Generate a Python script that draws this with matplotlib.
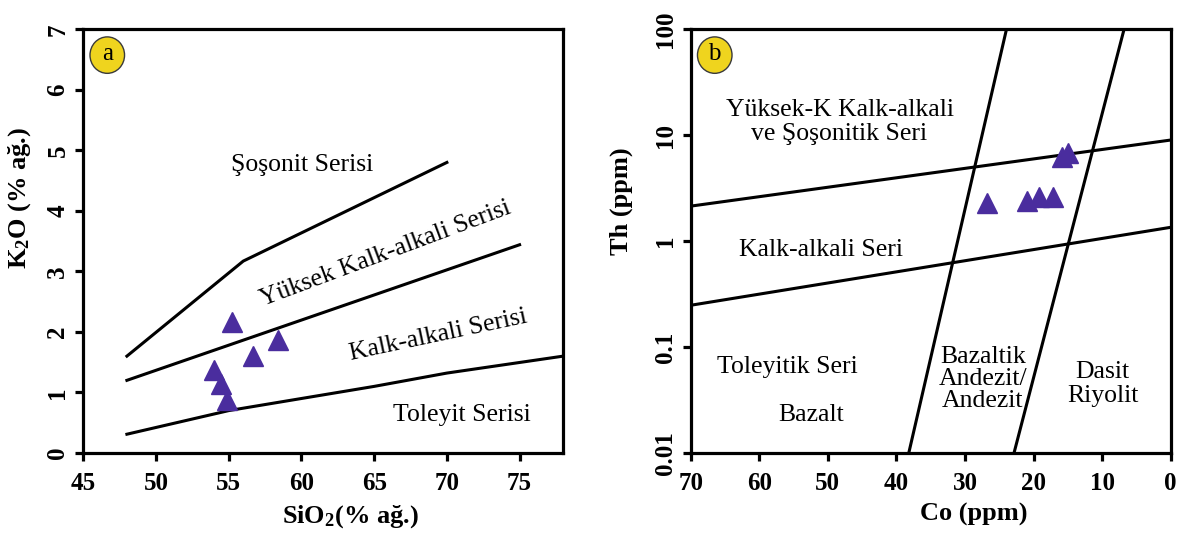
import numpy as np
import matplotlib
matplotlib.use('Agg')
import matplotlib.pyplot as plt
from matplotlib.patches import Ellipse

plt.rcParams['font.family'] = ['Liberation Serif', 'DejaVu Serif']
plt.rcParams['mathtext.fontset'] = 'custom'
plt.rcParams['mathtext.rm'] = 'Liberation Serif'
plt.rcParams['mathtext.bf'] = 'Liberation Serif:bold'

# -- Sample data --
sio2 = [55.2, 58.4, 56.7, 54.0, 54.5, 54.9]
k2o = [2.17, 1.86, 1.61, 1.37, 1.14, 0.87]

co = [26.8, 20.9, 19.2, 17.1, 15.9, 15.0]
th = [2.30, 2.39, 2.59, 2.59, 6.25, 6.74]

# -- SiO2 vs K2O boundaries --
shoSio2 = [48, 56, 70]
shoK2o = [1.6, 3.17, 4.8]
hkSio2 = [48, 75]
hkK2o = [1.2, 3.44]
thSio2 = [48, 55, 65, 70, 78]
thK2o = [0.31, 0.70, 1.10, 1.32, 1.60]

# -- Co vs Th boundaries --
upperCo = [70, 0]
upperTh = [2.14, 9.0]
lowerCo = [70, 0]
lowerTh = [0.248, 1.35]
leftDivCo = [38.2, 23.95]
rightDivCo = [22.85, 6.8]
divTh = [0.01, 100]

markerColor = '#4a2d9e'
badgeColor = '#efd41e'
lwBound = 2.2
textSize = 18.5

fig = plt.figure(figsize=(11.93, 5.36), dpi=100)
axA = fig.add_axes([0.0698, 0.1549, 0.4023, 0.7905])
axB = fig.add_axes([0.579, 0.1549, 0.4023, 0.7905])

for ax in [axA, axB]:
    for sp in ax.spines.values():
        sp.set_linewidth(2.3)
    ax.tick_params(which='major', direction='out', length=6, width=2.3, labelsize=18)
    ax.tick_params(axis='x', pad=8)
    ax.tick_params(axis='y', pad=4)
    ax.tick_params(which='minor', length=0)

# -- Panel a --
axA.plot(shoSio2, shoK2o, color='k', lw=lwBound)
axA.plot(hkSio2, hkK2o, color='k', lw=lwBound)
axA.plot(thSio2, thK2o, color='k', lw=lwBound)
axA.plot(sio2, k2o, linestyle='none', marker='^', ms=14, color=markerColor, mec=markerColor)
axA.set_xlim(45, 78)
axA.set_ylim(0, 7)
axA.set_xticks(np.arange(45, 76, 5))
axA.set_yticks(np.arange(0, 8, 1))
axA.set_xticklabels([str(v) for v in range(45, 76, 5)], fontweight='bold', fontsize=18)
axA.set_yticklabels([str(v) for v in range(0, 8)], fontweight='bold', fontsize=18,
                    rotation=90, va='center')
axA.set_xlabel(r'$\mathbf{SiO_2}$(% ağ.)', fontsize=19, fontweight='bold')
axA.set_ylabel(r'$\mathbf{K_2}$O (% ağ.)', fontsize=19, fontweight='bold')
axA.xaxis.set_label_coords(0.556, -0.118)
axA.yaxis.set_label_coords(-0.105, 0.602)

axA.text(60.05, 4.75, 'Şoşonit Serisi', fontsize=textSize, ha='center', va='center')
axA.text(65.8, 3.29, 'Yüksek Kalk-alkali Serisi', fontsize=textSize, ha='center', va='center',
         rotation=20.5, rotation_mode='anchor')
axA.text(69.4, 1.94, 'Kalk-alkali Serisi', fontsize=textSize, ha='center', va='center',
         rotation=12, rotation_mode='anchor')
axA.text(71.0, 0.62, 'Toleyit Serisi', fontsize=textSize, ha='center', va='center')

# -- Panel b --
axB.set_yscale('log')
axB.plot(upperCo, upperTh, color='k', lw=lwBound)
axB.plot(lowerCo, lowerTh, color='k', lw=lwBound)
axB.plot(leftDivCo, divTh, color='k', lw=lwBound)
axB.plot(rightDivCo, divTh, color='k', lw=lwBound)
axB.plot(co, th, linestyle='none', marker='^', ms=14, color=markerColor, mec=markerColor)
axB.set_xlim(70, 0)
axB.set_ylim(0.01, 100)
axB.set_xticks(np.arange(70, -1, -10))
axB.set_xticklabels([str(v) for v in range(70, -1, -10)], fontweight='bold', fontsize=18)
axB.set_yticks([0.01, 0.1, 1, 10, 100])
axB.set_yticklabels(['0.01', '0.1', '1', '10', '100'], fontweight='bold', fontsize=18,
                    rotation=90, va='center')
axB.minorticks_off()
axB.set_xlabel('Co (ppm)', fontsize=19, fontweight='bold')
axB.set_ylabel('Th (ppm)', fontsize=19, fontweight='bold')
axB.xaxis.set_label_coords(0.590, -0.118)
axB.yaxis.set_label_coords(-0.12, 0.595)

axB.text(48.3, 13.3, 'Yüksek-K Kalk-alkali\nve Şoşonitik Seri', fontsize=textSize,
         ha='center', va='center', linespacing=1.1)
axB.text(51.0, 0.83, 'Kalk-alkali Seri', fontsize=textSize, ha='center', va='center')
axB.text(55.9, 0.065, 'Toleyitik Seri', fontsize=textSize, ha='center', va='center')
axB.text(52.4, 0.023, 'Bazalt', fontsize=textSize, ha='center', va='center')
axB.text(27.4, 0.05, 'Bazaltik\nAndezit/\nAndezit', fontsize=textSize, ha='center',
         va='center', linespacing=1.0)
axB.text(9.9, 0.045, 'Dasit\nRiyolit', fontsize=textSize, ha='center', va='center',
         linespacing=1.15)

# -- panel badges --
for ax, letter in [(axA, 'a'), (axB, 'b')]:
    ax.add_patch(Ellipse((0.05, 0.939), 0.072, 0.086, transform=ax.transAxes,
                         facecolor=badgeColor, edgecolor='#3a3a3a', lw=1.0, zorder=5))
    ax.text(0.05, 0.941, letter, transform=ax.transAxes, fontsize=18,
            ha='center', va='center', zorder=6)

fig.savefig('out.png', dpi=100)
